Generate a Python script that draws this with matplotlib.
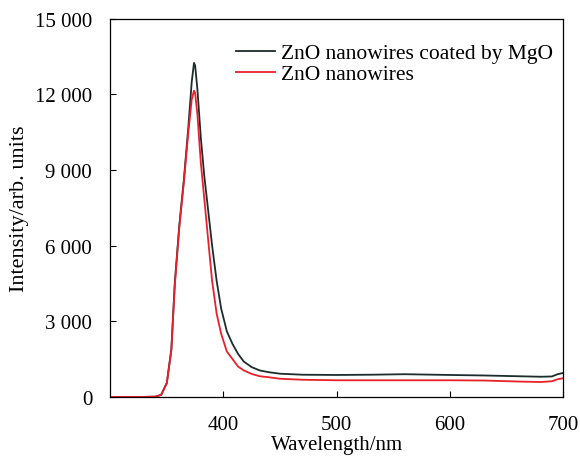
import numpy as np
import matplotlib.pyplot as plt
from matplotlib.ticker import FuncFormatter

plt.rcParams['font.family'] = ['Liberation Serif', 'DejaVu Serif']

# Wavelength grid (nm) and intensities
wavelength = [300, 330, 340, 345, 350, 354, 357, 361, 365, 369, 372, 374, 375, 377, 380, 383, 387,
              390, 394, 398, 403, 408, 413, 418, 425, 432, 440, 450, 470, 500, 530, 560, 600,
              630, 660, 680, 690, 695, 700]
coated = [0, 0, 10, 80, 560, 1900, 4500, 6800, 8600, 10700, 12500, 13250, 13150, 12200, 10300, 8800, 7200,
          6000, 4600, 3500, 2600, 2100, 1700, 1400, 1180, 1050, 980, 920, 880, 870, 880, 900, 870,
          850, 820, 800, 810, 900, 950]
bare = [0, 0, 10, 80, 540, 1850, 4400, 6700, 8500, 10500, 11800, 12150, 12050, 11200, 9300, 7900, 6000,
        4600, 3300, 2500, 1800, 1500, 1200, 1050, 910, 820, 780, 720, 680, 660, 660, 660, 660,
        650, 610, 590, 620, 700, 740]

fig = plt.figure(figsize=(5.8, 4.6), dpi=100)
ax = fig.add_axes([0.19, 0.135, 0.781, 0.822])

ax.plot(wavelength, coated, color='#1c2b2b', lw=1.3, label='ZnO nanowires coated by MgO')
ax.plot(wavelength, bare, color='#e8202a', lw=1.3, label='ZnO nanowires')

ax.set_xlim(300, 700)
ax.set_ylim(0, 15000)
ax.set_xticks([400, 500, 600, 700])
ax.set_yticks([0, 3000, 6000, 9000, 12000, 15000])
ax.yaxis.set_major_formatter(FuncFormatter(lambda v, p: f'{int(v):,}'.replace(',', ' ')))
ax.tick_params(direction='in', labelsize=15, length=4, width=0.8)
ax.tick_params(axis='x', pad=13)
ax.tick_params(axis='y', pad=13)
for s in ax.spines.values():
    s.set_linewidth(0.9)

ax.set_xlabel('Wavelength/nm', fontsize=15, labelpad=1)
ax.set_ylabel('Intensity/arb. units', fontsize=16, labelpad=4)

ax.legend(loc='upper right', bbox_to_anchor=(1.005, 0.97), frameon=False, fontsize=15.5,
          handlelength=1.8, handletextpad=0.25, labelspacing=0.05, borderaxespad=0.2)

fig.savefig('out.png', dpi=100)
